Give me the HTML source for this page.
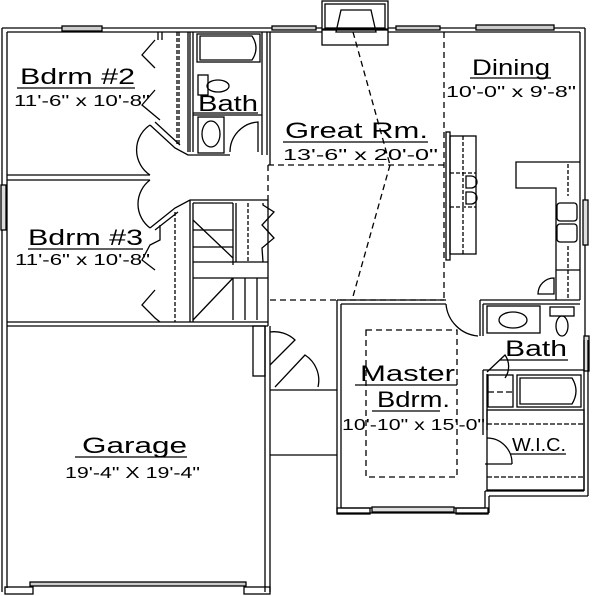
<!DOCTYPE html>
<html><head><style>
html,body{margin:0;padding:0;background:#fff}
svg{display:block}
text{font-family:"Liberation Sans",sans-serif;fill:#000}
</style></head><body>
<svg width="600" height="596" viewBox="0 0 600 596" xmlns="http://www.w3.org/2000/svg">
<g fill="none" stroke="#000" stroke-width="1.3">
<line x1="2" y1="28" x2="322" y2="28"/><line x1="7" y1="32" x2="322" y2="32"/>
<line x1="388" y1="28" x2="585" y2="28"/><line x1="388" y1="32" x2="580" y2="32"/>
<rect x="62" y="26" width="40" height="5" fill="#ccc"/>
<rect x="272" y="26" width="44" height="4" fill="#ccc"/>
<rect x="396" y="26" width="44" height="4" fill="#ccc"/>
<rect x="476" y="25" width="78" height="5" fill="#ccc"/>
<rect x="322" y="1" width="66" height="28"/>
<rect x="325" y="4" width="60" height="24"/>
<polygon points="341,10 371,10 376,32 336,32"/>
<rect x="322" y="30" width="66" height="15"/>
<line x1="2" y1="28" x2="2" y2="592"/><line x1="7" y1="32" x2="7" y2="588"/>
<rect x="1" y="185" width="5" height="45" fill="#ddd"/>
<line x1="585" y1="28" x2="585" y2="200"/><line x1="580" y1="32" x2="580" y2="300"/>
<rect x="583" y="200" width="5" height="45" fill="#ddd"/>
<line x1="585" y1="245" x2="585" y2="340"/>
<rect x="584" y="336" width="5" height="35" fill="#ddd"/>
<line x1="588" y1="340" x2="588" y2="496"/><line x1="584" y1="340" x2="584" y2="491"/>
<line x1="588" y1="496" x2="489" y2="496"/><line x1="584" y1="491" x2="485" y2="491"/>
<line x1="489" y1="496" x2="489" y2="513"/><line x1="485" y1="491" x2="485" y2="508"/>
<line x1="337" y1="513" x2="489" y2="513"/><line x1="341" y1="508" x2="485" y2="508"/>
<rect x="372" y="507" width="82" height="5" fill="#ddd"/>
<line x1="337" y1="300" x2="337" y2="513"/><line x1="341" y1="304" x2="341" y2="508"/>
<line x1="337" y1="300" x2="446" y2="300"/><line x1="341" y1="304" x2="446" y2="304"/>
<line x1="7" y1="175" x2="150" y2="175"/><line x1="7" y1="180" x2="150" y2="180"/>
<line x1="7" y1="322" x2="268" y2="322"/><line x1="7" y1="326" x2="268" y2="326"/>
<line x1="158" y1="32" x2="158" y2="40"/><line x1="162" y1="32" x2="162" y2="40"/>
<polyline points="155,40 142,55 155,68"/>
<polyline points="155,90 142,105 160,120"/>
<line x1="190" y1="32" x2="190" y2="152"/><line x1="188" y1="32" x2="188" y2="152"/>
<line x1="177" y1="32" x2="177" y2="145" stroke-dasharray="4,2"/>
<line x1="179" y1="32" x2="179" y2="145" stroke-dasharray="4,2"/>
<polyline points="150,125 175,148 188,155 230,155"/>
<polyline points="155,122 180,145"/>
<line x1="193" y1="32" x2="193" y2="152"/>
<line x1="262" y1="32" x2="262" y2="155"/><line x1="267" y1="32" x2="267" y2="155"/>
<line x1="270" y1="32" x2="270" y2="165"/>
<rect x="197" y="34" width="63" height="28"/>
<path d="M200,36 H252 Q260,48 252,60 H200 Z"/>
<rect x="198" y="75" width="10" height="20"/>
<ellipse cx="218" cy="86" rx="11" ry="6"/>
<line x1="193" y1="115" x2="262" y2="115"/>
<rect x="198" y="117" width="26" height="36"/>
<ellipse cx="211" cy="134" rx="9" ry="13"/>
<path d="M230,152 A30,30 0 0 1 258,122 L258,152"/>
<path d="M150,125 A30,30 0 0 0 150,175"/>
<path d="M150,180 A30,30 0 0 0 150,228"/>
<polyline points="150,228 175,208 190,200 268,200"/>
<polyline points="155,230 178,212"/>
<polyline points="160,225 160,240 150,245 142,260 155,270"/>
<polyline points="155,290 142,305 155,318 160,322"/>
<line x1="175" y1="212" x2="175" y2="322" stroke-dasharray="4,2"/>
<line x1="190" y1="200" x2="190" y2="322"/>
<line x1="193" y1="203" x2="193" y2="322"/>
<line x1="193" y1="203" x2="233" y2="203"/>
<line x1="233" y1="203" x2="233" y2="265"/>
<line x1="236" y1="203" x2="236" y2="262"/>
<line x1="248" y1="203" x2="248" y2="262" stroke-dasharray="4,2"/>
<polyline points="263,203 263,205 274,212 262,225 274,238 262,248 263,262"/>
<line x1="193" y1="262" x2="268" y2="262"/>
<line x1="193" y1="278" x2="268" y2="278"/>
<line x1="193" y1="230" x2="233" y2="230"/>
<line x1="193" y1="247" x2="233" y2="247"/>
<line x1="193" y1="220" x2="233" y2="258"/>
<line x1="193" y1="320" x2="233" y2="278"/>
<line x1="233" y1="278" x2="233" y2="320"/>
<line x1="245" y1="278" x2="245" y2="320"/>
<line x1="257" y1="278" x2="257" y2="320"/>
<line x1="268" y1="200" x2="268" y2="326"/>
<line x1="265" y1="326" x2="265" y2="592"/><line x1="270" y1="326" x2="270" y2="592"/>
<rect x="253" y="326" width="12" height="50"/>
<line x1="270" y1="455" x2="337" y2="455"/>
<line x1="270" y1="390" x2="337" y2="390"/>
<path d="M270,332 A30,30 0 0 1 295,340 L270,365"/>
<path d="M275,387 L305,355 A30,30 0 0 1 318,387"/>
<rect x="30" y="582" width="216" height="4" fill="#ccc"/>
<rect x="5" y="587" width="28" height="7"/>
<rect x="244" y="587" width="26" height="7"/>
<rect x="337" y="508" width="33" height="6"/>
<rect x="456" y="508" width="32" height="6"/>
<g stroke-dasharray="6,4">
<line x1="444" y1="32" x2="444" y2="300"/>
<line x1="268" y1="165" x2="444" y2="165"/>
<line x1="268" y1="165" x2="268" y2="200"/>
<line x1="270" y1="300" x2="444" y2="300"/>
<line x1="353" y1="32" x2="390" y2="165"/>
<line x1="390" y1="165" x2="352" y2="300"/>
</g>
<rect x="446" y="132" width="4" height="128"/>
<rect x="450" y="136" width="26" height="118"/>
<line x1="463" y1="136" x2="463" y2="254" stroke-dasharray="4,2"/>
<line x1="450" y1="173" x2="476" y2="173" stroke-dasharray="4,2"/>
<line x1="450" y1="207" x2="476" y2="207" stroke-dasharray="4,2"/>
<path d="M466,176 h5 a6,6 0 0 1 0,12 h-5 z M466,192 h5 a6,6 0 0 1 0,12 h-5 z"/>
<polyline points="580,162 516,162 516,188 556,188 556,300"/>
<line x1="568" y1="164" x2="568" y2="196" stroke-dasharray="4,2"/>
<rect x="557" y="203" width="20" height="18" rx="3"/>
<rect x="557" y="224" width="20" height="18" rx="3"/>
<line x1="568" y1="246" x2="568" y2="300" stroke-dasharray="4,2"/>
<line x1="556" y1="270" x2="580" y2="270"/>
<path d="M538,294 A16,16 0 0 1 554,278 L554,294 Z"/>
<line x1="480" y1="300" x2="580" y2="300"/><line x1="483" y1="304" x2="580" y2="304"/>
<line x1="480" y1="300" x2="480" y2="336"/><line x1="483" y1="304" x2="483" y2="336"/>
<path d="M446,304 A35,35 0 0 0 478,336"/>
<rect x="487" y="306" width="53" height="27"/>
<ellipse cx="513" cy="320" rx="14" ry="8"/>
<rect x="550" y="307" width="24" height="9"/>
<ellipse cx="562" cy="326" rx="6" ry="10"/>
<line x1="483" y1="370" x2="584" y2="370"/>
<line x1="483" y1="370" x2="483" y2="435"/><line x1="487" y1="374" x2="487" y2="430"/>
<path d="M487,372 L505,355 A20,20 0 0 1 505,378"/>
<rect x="488" y="375" width="25" height="32"/>
<line x1="488" y1="392" x2="512" y2="392" stroke-dasharray="6,3"/>
<rect x="517" y="375" width="64" height="32"/>
<path d="M520,378 H572 Q580,391 572,404 H520 Z"/>
<rect x="487" y="410" width="97" height="80"/>
<line x1="487" y1="424" x2="584" y2="424" stroke-dasharray="5,2"/>
<line x1="487" y1="477" x2="584" y2="477" stroke-dasharray="5,2"/>
<path d="M487,438 A25,25 0 0 1 512,463 L512,464"/>
<line x1="485" y1="464" x2="512" y2="464"/>
<rect x="366" y="330" width="91" height="147" stroke-dasharray="6,4"/>
<line x1="17" y1="88" x2="135" y2="88"/>
<line x1="283" y1="142" x2="428" y2="142"/>
<line x1="470" y1="78" x2="551" y2="78"/>
<line x1="28" y1="249" x2="143" y2="249"/>
<line x1="75" y1="457" x2="187" y2="457"/>
<line x1="355" y1="385" x2="457" y2="385"/>
<line x1="372" y1="411" x2="440" y2="411"/>
<line x1="500" y1="360" x2="568" y2="360"/>
<line x1="510" y1="454" x2="566" y2="454"/>
<line x1="193" y1="113" x2="258" y2="113"/>
</g>
<g font-size="22">
<text x="20" y="84" textLength="115" lengthAdjust="spacingAndGlyphs">Bdrm #2</text>
<text x="198" y="111" textLength="60" lengthAdjust="spacingAndGlyphs">Bath</text>
<text x="285" y="138" textLength="143" lengthAdjust="spacingAndGlyphs">Great Rm.</text>
<text x="472" y="75" textLength="78" lengthAdjust="spacingAndGlyphs">Dining</text>
<text x="28" y="245" textLength="115" lengthAdjust="spacingAndGlyphs">Bdrm #3</text>
<text x="82" y="453" textLength="105" lengthAdjust="spacingAndGlyphs">Garage</text>
<text x="360" y="381" textLength="95" lengthAdjust="spacingAndGlyphs">Master</text>
<text x="377" y="407" textLength="73" lengthAdjust="spacingAndGlyphs">Bdrm.</text>
<text x="505" y="356" textLength="62" lengthAdjust="spacingAndGlyphs">Bath</text>
<text x="512" y="451" font-size="18" textLength="54" lengthAdjust="spacingAndGlyphs">W.I.C.</text>
</g>
<g font-size="16">
<text x="14" y="106" textLength="136" lengthAdjust="spacingAndGlyphs">11'-6" x 10'-8"</text>
<text x="283" y="160" textLength="155" lengthAdjust="spacingAndGlyphs">13'-6" x 20'-0"</text>
<text x="446" y="97" textLength="130" lengthAdjust="spacingAndGlyphs">10'-0" x 9'-8"</text>
<text x="15" y="265" textLength="135" lengthAdjust="spacingAndGlyphs">11'-6" x 10'-8"</text>
<text x="65" y="478" textLength="135" lengthAdjust="spacingAndGlyphs">19'-4" X 19'-4"</text>
<text x="342" y="430" textLength="143" lengthAdjust="spacingAndGlyphs">10'-10" x 15'-0"</text>
</g>
</svg>
</body></html>
